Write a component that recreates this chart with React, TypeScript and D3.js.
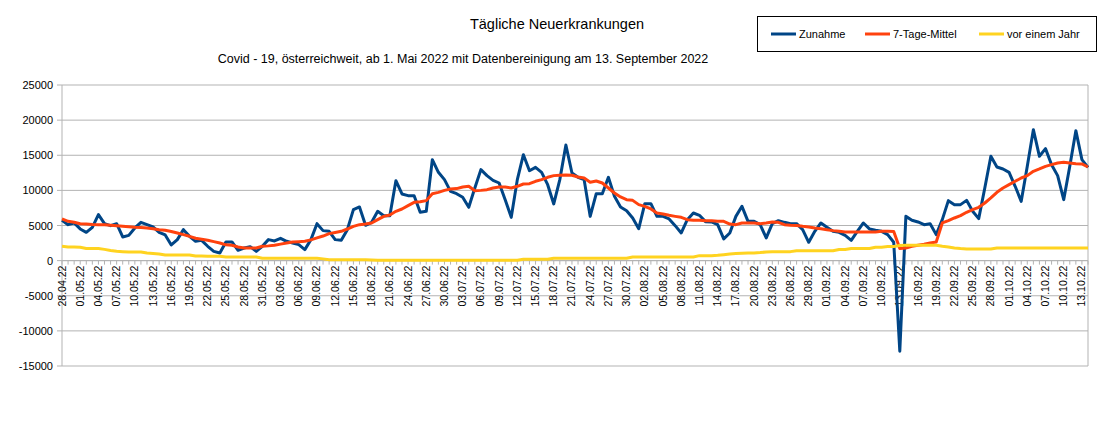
import React from "react";
import * as d3 from "d3";

const START = new Date(2022, 3, 28);
const categories: string[] = d3.timeDay
  .range(START, d3.timeDay.offset(START, 170))
  .map((d) => d3.timeFormat("%d.%m.%y")(d));

const zunahme: number[] = [
  5735, 5120, 5360, 4510, 4030, 4740, 6550, 5260, 4980, 5260,
  3370, 3600, 4650, 5450, 5120, 4790, 4030, 3650, 2230, 2990,
  4410, 3460, 2750, 2890, 2040, 1320, 1090, 2660, 2660, 1470,
  1800, 1990, 1320, 2040, 2990, 2800, 3180, 2750, 2510, 2280,
  1570, 2990, 5260, 4270, 4170, 2990, 2890, 4410, 7260, 7640,
  5030, 5450, 7020, 6400, 6400, 11380, 9490, 9250, 9250, 6880,
  7020, 14370, 12570, 11530, 9860, 9530, 9010, 7590, 10340, 12950,
  12100, 11430, 11050, 8680, 6160, 11530, 15080, 12800, 13280, 12570,
  10810, 8070, 11530, 16460, 12480, 11860, 11530, 6300, 9530, 9530,
  11860, 9150, 7640, 7110, 6070, 4550, 8110, 8110, 6300, 6300,
  5930, 4980, 3940, 5830, 6780, 6450, 5550, 5500, 5120, 3090,
  3940, 6300, 7730, 5590, 5590, 5120, 3230, 5260, 5690, 5450,
  5260, 5260, 4410, 2610, 4170, 5360, 4740, 4170, 4030, 3600,
  2890, 4170, 5360, 4510, 4320, 4170, 3700, 2610, -12900, 6300,
  5740, 5500, 5120, 5260, 3700, 5830, 8540, 7970, 7970, 8580,
  7020, 5980, 10340, 14850, 13330, 13050, 12570, 10580, 8440, 13420,
  18640, 14850, 15940, 13660, 12100, 8680, 13420, 18500, 14370, 13280,
];

const mittel7: number[] = [
  5930, 5590, 5450, 5260, 5200, 5150, 5120, 5100, 5050, 4980,
  4900, 4820, 4740, 4700, 4650, 4550, 4410, 4320, 4150, 3940,
  3700, 3460, 3180, 3050, 2890, 2700, 2510, 2250, 2180, 1950,
  1800, 1800, 1800, 2040, 2100, 2180, 2350, 2510, 2660, 2700,
  2750, 2950, 3230, 3500, 3840, 4000, 4170, 4500, 4880, 5120,
  5200, 5350, 5830, 6300, 6500, 7020, 7350, 7820, 8300, 8390,
  8540, 9530, 9720, 10000, 10200, 10250, 10480, 10580, 9950, 10000,
  10100, 10340, 10480, 10480, 10340, 10580, 10910, 10960, 11290, 11530,
  11860, 12100, 12150, 12200, 12150, 11910, 11760, 11150, 11340, 11050,
  10340, 9630, 9060, 8680, 8580, 7970, 7730, 7350, 6780, 6640,
  6450, 6300, 6160, 5830, 5740, 5740, 5690, 5690, 5590, 5590,
  5210, 5120, 5350, 5360, 5360, 5260, 5360, 5500, 5450, 5120,
  5050, 5000, 4880, 4790, 4650, 4550, 4410, 4270, 4170, 4080,
  4080, 4080, 4080, 4080, 4080, 4170, 4170, 4130, 1720, 1800,
  2040, 2180, 2330, 2510, 2660, 5360, 5690, 6070, 6400, 6880,
  7260, 7590, 8200, 8920, 9720, 10340, 10810, 11290, 11760, 12100,
  12710, 13050, 13420, 13660, 13900, 13990, 13900, 13800, 13760, 13330,
];

const vorEinemJahr: number[] = [
  2040, 1940, 1940, 1900, 1720, 1720, 1720, 1600, 1450, 1330,
  1280, 1230, 1230, 1230, 1090, 1020, 950, 810, 810, 810,
  810, 810, 660, 660, 640, 640, 620, 520, 520, 520,
  520, 520, 520, 330, 330, 330, 330, 330, 330, 330,
  330, 330, 330, 250, 140, 140, 140, 140, 140, 140,
  140, 100, 50, 50, 50, 50, 50, 50, 50, 50,
  50, 50, 50, 50, 50, 50, 50, 50, 50, 50,
  50, 50, 50, 50, 50, 50, 190, 190, 190, 190,
  190, 330, 330, 330, 330, 330, 330, 330, 330, 330,
  330, 330, 330, 330, 520, 520, 520, 520, 520, 520,
  520, 520, 520, 520, 520, 710, 710, 710, 760, 850,
  950, 1000, 1050, 1090, 1090, 1150, 1230, 1280, 1280, 1280,
  1280, 1420, 1420, 1420, 1420, 1420, 1420, 1420, 1570, 1570,
  1720, 1720, 1720, 1720, 1900, 1900, 2000, 2000, 2140, 2190,
  2190, 2190, 2190, 2190, 2190, 2050, 1940, 1800, 1720, 1660,
  1660, 1660, 1660, 1660, 1800, 1800, 1800, 1800, 1800, 1800,
  1800, 1800, 1800, 1800, 1800, 1800, 1800, 1800, 1800, 1800,
];

const yTicks: number[] = [-15000, -10000, -5000, 0, 5000, 10000, 15000, 20000, 25000];

const seriesNames = ["Zunahme", "7-Tage-Mittel", "vor einem Jahr"];
const seriesColors = ["#004586", "#ff420e", "#ffd320"];

const title = "Tägliche Neuerkrankungen";
const subtitle = "Covid - 19, österreichweit, ab 1. Mai 2022 mit Datenbereinigung am 13. September 2022";

export default function App() {
  const W = 1117, H = 448;
  const left = 62, right = 1088, top = 85, bottom = 366;
  const x = d3.scalePoint<string>().domain(categories).range([left, right]);
  const y = d3.scaleLinear().domain([-15000, 25000]).range([bottom, top]);
  const y0 = y(0);
  const font = "'Liberation Sans', Arial, sans-serif";
  const line = d3
    .line<number>()
    .x((_, i) => x(categories[i]) as number)
    .y((v) => y(v));
  const series = [zunahme, mittel7, vorEinemJahr];

  return (
    <svg width={W} height={H} style={{ position: "absolute", left: 0, top: 0, background: "#fff" }} fontFamily={font}>
      <rect x={0} y={0} width={W} height={H} fill="#fff" />
      <text x={557} y={29} textAnchor="middle" fontSize={14.5} fill="#000">{title}</text>
      <text x={463} y={63} textAnchor="middle" fontSize={12.5} fill="#000">{subtitle}</text>

      {yTicks.map((t) => (
        <g key={t}>
          <line x1={left - 5} x2={right} y1={y(t)} y2={y(t)} stroke="#b3b3b3" strokeWidth={1} />
          <text x={left - 9} y={y(t) + 4} textAnchor="end" fontSize={11} fill="#000">{t}</text>
        </g>
      ))}
      <line x1={left} x2={left} y1={top} y2={bottom} stroke="#b3b3b3" />
      <line x1={right} x2={right} y1={top} y2={bottom} stroke="#b3b3b3" />
      <line x1={left} x2={right} y1={y0} y2={y0} stroke="#b3b3b3" />
      {categories.map((c) => (
        <line key={c} x1={x(c)} x2={x(c)} y1={y0} y2={y0 + 4} stroke="#b3b3b3" />
      ))}
      {categories.map((c, i) =>
        i % 3 === 0 ? (
          <text
            key={"l" + c}
            transform={`translate(${(x(c) as number) + 3.5},${y0 + 5}) rotate(-90)`}
            textAnchor="end"
            fontSize={10.5}
            fill="#000"
          >
            {c}
          </text>
        ) : null
      )}

      {series.map((s, k) => (
        <path key={k} d={line(s) as string} fill="none" stroke={seriesColors[k]} strokeWidth={3} strokeLinejoin="round" />
      ))}

      <rect x={757.5} y={16.5} width={339} height={35} fill="#fff" stroke="#000" strokeWidth={1} />
      {seriesNames.map((n, k) => {
        const lx = [771, 865, 979][k];
        return (
          <g key={n}>
            <line x1={lx} x2={lx + 25} y1={34} y2={34} stroke={seriesColors[k]} strokeWidth={3} />
            <text x={lx + 28} y={38} fontSize={11} fill="#000">{n}</text>
          </g>
        );
      })}
    </svg>
  );
}
